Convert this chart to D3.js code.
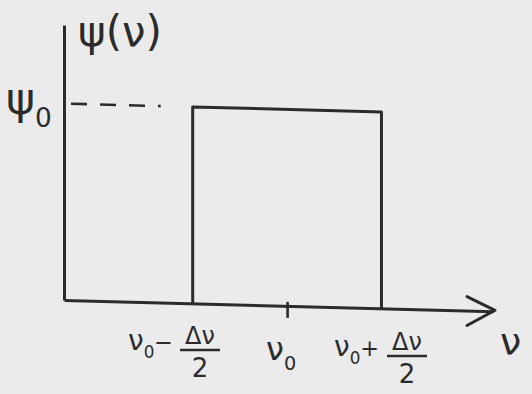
<!DOCTYPE html>
<html>
<head>
<meta charset="utf-8">
<script src="https://cdn.jsdelivr.net/npm/d3@7"></script>
<style>
  html, body { margin: 0; padding: 0; background: #ebebeb; }
  svg { display: block; }
  text { font-family: "DejaVu Sans", sans-serif; fill: #2b2b2b; }
</style>
</head>
<body>
<svg id="chart" width="532" height="394"></svg>
<script>
// Rectangular spectral profile: psi(nu) = psi0 for |nu - nu0| < dnu/2
const nu0 = 5.2;
const dnu = 4.4;
const psi0 = 1;
const edges = [nu0 - dnu / 2, nu0 + dnu / 2];
const xDomain = [0, 10];
const yDomain = [0, 1.4];

const W = 532, H = 394;
const ink = "#2b2b2b";
const svg = d3.select("#chart").attr("viewBox", `0 0 ${W} ${H}`);
svg.append("rect").attr("width", W).attr("height", H).attr("fill", "#ebebeb");

const origin = { x: 64, y: 300 };
const x = d3.scaleLinear().domain(xDomain).range([origin.x, 493]);
const y = d3.scaleLinear().domain(yDomain).range([origin.y, 25]);

// Freehand look: horizontal lines drift slightly downward to the right
const plot = svg.append("g")
  .attr("transform", `translate(${origin.x},${origin.y}) skewY(1.5) translate(${-origin.x},${-origin.y})`);

// x axis with a single tick at nu0
const xAxis = plot.append("g")
  .attr("transform", `translate(0, ${origin.y})`)
  .call(d3.axisBottom(x).tickValues([nu0]).tickSize(12).tickSizeOuter(0).tickFormat(""));
xAxis.select(".domain").attr("stroke", ink).attr("stroke-width", 3);
xAxis.selectAll(".tick line").attr("stroke", ink).attr("stroke-width", 2.6)
  .attr("y1", -4);

// arrow head on the x axis
const xEnd = x(xDomain[1]);
plot.append("path")
  .attr("d", `M${xEnd - 26},${origin.y - 14} L${xEnd + 2},${origin.y - 1} L${xEnd - 26},${origin.y + 15}`)
  .attr("fill", "none").attr("stroke", ink).attr("stroke-width", 3)
  .attr("stroke-linecap", "round").attr("stroke-linejoin", "round");

// y axis
const yAxis = plot.append("g")
  .attr("transform", `translate(${origin.x}, 0)`)
  .call(d3.axisLeft(y).tickValues([]).tickSizeOuter(0));
yAxis.select(".domain").attr("stroke", ink).attr("stroke-width", 3);

// dashed guide at psi0
plot.append("line")
  .attr("x1", x(0) + 7).attr("x2", x(edges[0]) - 32)
  .attr("y1", y(psi0)).attr("y2", y(psi0))
  .attr("stroke", ink).attr("stroke-width", 2.6)
  .attr("stroke-dasharray", "16 13");

// the rectangle
const line = d3.line().x(d => x(d[0])).y(d => y(d[1]));
plot.append("path")
  .datum([[edges[0], 0], [edges[0], psi0], [edges[1], psi0], [edges[1], 0]])
  .attr("d", line)
  .attr("fill", "none").attr("stroke", ink).attr("stroke-width", 3)
  .attr("stroke-linejoin", "round");

// labels
function label(tx, ty, main, sub, size, tail) {
  const t = svg.append("text").attr("x", tx).attr("y", ty)
    .attr("font-size", size);
  t.append("tspan").text(main);
  if (sub) t.append("tspan").attr("font-size", size * 0.6).attr("dy", size * 0.3).text(sub);
  if (tail) t.append("tspan").attr("font-size", size * 0.8).attr("dy", -size * 0.3).text(tail);
  return t;
}
function fraction(cx, ty, num, den) {
  svg.append("text").attr("x", cx).attr("y", ty).attr("text-anchor", "middle")
    .attr("font-size", 24).text(num);
  svg.append("line").attr("x1", cx - 20).attr("x2", cx + 20)
    .attr("y1", ty + 6).attr("y2", ty + 6)
    .attr("stroke", ink).attr("stroke-width", 2.6);
  svg.append("text").attr("x", cx).attr("y", ty + 33).attr("text-anchor", "middle")
    .attr("font-size", 26).text(den);
}

label(78, 46, "ψ(ν)", null, 42);
label(6, 114, "ψ", "0", 44);

label(128, 350, "ν", "0", 28, "−");
fraction(200, 344, "Δν", "2");

label(266, 360, "ν", "0", 32);

label(334, 356, "ν", "0", 28, "+");
fraction(407, 350, "Δν", "2");

label(500, 355, "ν", null, 38);
</script>
</body>
</html>
